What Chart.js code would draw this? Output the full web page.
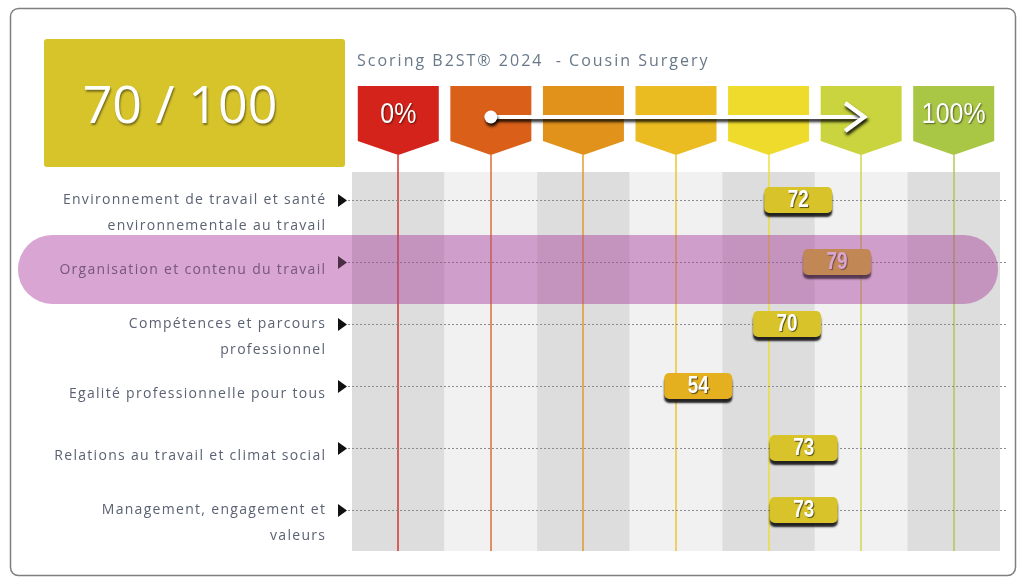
<!DOCTYPE html>
<html>
<head>
<meta charset="utf-8">
<script src="https://cdn.jsdelivr.net/npm/chart.js@4.4.1/dist/chart.umd.min.js"></script>
<style>
  html, body { margin: 0; padding: 0; background: #ffffff; }
  #wrap { width: 1022px; height: 579px; position: relative; }
</style>
</head>
<body>
<div id="wrap"><canvas id="scoring"></canvas></div>
<script>
// Themes of the B2ST scoring, one line per row (multi-line labels as arrays)
const categories = [
  ['Environnement de travail et santé', 'environnementale au travail'],
  ['Organisation et contenu du travail'],
  ['Compétences et parcours', 'professionnel'],
  ['Egalité professionnelle pour tous'],
  ['Relations au travail et climat social'],
  ['Management, engagement et', 'valeurs']
];
// Score of each theme, out of 100
const scores = [72, 79, 70, 54, 73, 73];
const badgeColors = ['#d8c42a', '#d8c42a', '#d8c42a', '#e4b01f', '#d8c42a', '#d8c42a'];

// Scale header: seven levels from 0% to 100%
const levelLabels = ['0%', '', '', '', '', '', '100%'];
const levelColors = ['#d3231a', '#da6019', '#e1921a', '#ebbc22', '#efdb2b', '#c9d43e', '#aac645'];

const globalScore = 70;
const scoreMax = 100;
const chartTitle = 'Scoring B2ST® 2024  - Cousin Surgery';
const focusRow = 1;

const levelStep = 100 / (levelLabels.length - 1);
const levelValues = levelLabels.map((_, i) => i * levelStep);

function roundRect(ctx, x, y, w, h, r) {
  ctx.beginPath();
  ctx.roundRect(x, y, w, h, r);
}

// condensed text: horizontal squeeze around the anchor point
function narrowText(ctx, text, x, y, squeeze) {
  ctx.save();
  ctx.translate(x, y);
  ctx.scale(squeeze, 1);
  ctx.fillText(text, 0, 0);
  ctx.restore();
}

const scoreboard = {
  id: 'scoreboard',
  beforeDraw(chart) {
    const { ctx } = chart;
    const xs = chart.scales.x;
    ctx.save();
    ctx.fillStyle = '#ffffff';
    ctx.fillRect(0, 0, chart.width, chart.height);

    // outer frame
    ctx.strokeStyle = '#7f7f7f';
    ctx.lineWidth = 1.5;
    roundRect(ctx, 10.5, 8.5, 1005, 567, 8);
    ctx.stroke();

    // global score box
    ctx.fillStyle = '#d7c42b';
    roundRect(ctx, 44, 39, 301, 128, 3);
    ctx.fill();
    ctx.save();
    ctx.shadowColor = 'rgba(0,0,0,0.45)';
    ctx.shadowOffsetX = 1;
    ctx.shadowOffsetY = 2;
    ctx.shadowBlur = 2;
    ctx.fillStyle = '#ffffff';
    ctx.font = '52px "Open Sans"';
    ctx.textAlign = 'center';
    ctx.textBaseline = 'alphabetic';
    ctx.fillText(globalScore + ' / ' + scoreMax, 180, 123);
    ctx.restore();

    // title
    ctx.save();
    ctx.fillStyle = '#687888';
    ctx.font = '16px "Open Sans"';
    ctx.letterSpacing = '2px';
    ctx.textAlign = 'left';
    ctx.fillText(chartTitle, 357, 66);
    ctx.restore();

    // level tiles
    levelValues.forEach((v, i) => {
      const cx = xs.getPixelForValue(v);
      const hw = 40.5;
      ctx.fillStyle = levelColors[i];
      ctx.beginPath();
      ctx.moveTo(cx - hw, 86);
      ctx.lineTo(cx + hw, 86);
      ctx.lineTo(cx + hw, 141);
      ctx.lineTo(cx, 155);
      ctx.lineTo(cx - hw, 141);
      ctx.closePath();
      ctx.fill();
      if (levelLabels[i]) {
        ctx.save();
        ctx.shadowColor = 'rgba(0,0,0,0.5)';
        ctx.shadowOffsetX = 1;
        ctx.shadowOffsetY = 1;
        ctx.shadowBlur = 1.5;
        ctx.fillStyle = '#ffffff';
        ctx.font = '29px "Liberation Sans"';
        ctx.textAlign = 'center';
        ctx.textBaseline = 'middle';
        narrowText(ctx, levelLabels[i], cx, 115, 0.86);
        ctx.restore();
      }
    });

    // progression arrow
    const ax0 = xs.getPixelForValue(levelValues[1]);
    const ax1 = xs.getPixelForValue(levelValues[5]) + 3;
    const ay = 117;
    ctx.save();
    ctx.shadowColor = 'rgba(0,0,0,0.85)';
    ctx.shadowOffsetX = 1;
    ctx.shadowOffsetY = 3;
    ctx.shadowBlur = 3;
    ctx.strokeStyle = '#ffffff';
    ctx.fillStyle = '#ffffff';
    ctx.lineWidth = 4;
    ctx.beginPath();
    ctx.moveTo(ax0, ay);
    ctx.lineTo(ax1 - 2, ay);
    ctx.stroke();
    ctx.beginPath();
    ctx.arc(ax0, ay, 6.5, 0, Math.PI * 2);
    ctx.fill();
    ctx.lineWidth = 4.5;
    ctx.lineJoin = 'miter';
    ctx.beginPath();
    ctx.moveTo(ax1 - 19, ay - 14);
    ctx.lineTo(ax1, ay);
    ctx.lineTo(ax1 - 19, ay + 14);
    ctx.stroke();
    ctx.restore();
    ctx.restore();
  },
  beforeDatasetsDraw(chart) {
    const { ctx, chartArea } = chart;
    const xs = chart.scales.x;
    const ys = chart.scales.y;
    ctx.save();

    // alternating columns
    levelValues.forEach((v, i) => {
      const l = xs.getPixelForValue(v - levelStep / 2);
      const r = xs.getPixelForValue(v + levelStep / 2);
      ctx.fillStyle = i % 2 === 0 ? '#dddddd' : '#f1f1f1';
      ctx.fillRect(l, chartArea.top, r - l, chartArea.bottom - chartArea.top);
    });

    // level lines hanging from the tiles
    levelValues.forEach((v, i) => {
      const cx = Math.round(xs.getPixelForValue(v));
      ctx.strokeStyle = levelColors[i];
      ctx.globalAlpha = 0.75;
      ctx.lineWidth = 1.8;
      ctx.beginPath();
      ctx.moveTo(cx, 155);
      ctx.lineTo(cx, chartArea.bottom);
      ctx.stroke();
    });
    ctx.globalAlpha = 1;

    // row guides, markers and labels
    categories.forEach((lines, i) => {
      const y = Math.round(ys.getPixelForValue(i)) + 0.5;
      ctx.strokeStyle = '#8c8c8c';
      ctx.lineWidth = 1;
      ctx.setLineDash([2, 2]);
      ctx.beginPath();
      ctx.moveTo(chartArea.left - 4, y);
      ctx.lineTo(chartArea.right + 7, y);
      ctx.stroke();
      ctx.setLineDash([]);

      ctx.fillStyle = '#111111';
      ctx.beginPath();
      ctx.moveTo(338, y - 6.5);
      ctx.lineTo(347, y);
      ctx.lineTo(338, y + 6.5);
      ctx.closePath();
      ctx.fill();

      ctx.fillStyle = '#5a6273';
      ctx.font = '14px "Open Sans"';
      ctx.letterSpacing = '1.3px';
      ctx.textAlign = 'right';
      ctx.textBaseline = 'middle';
      const lh = 26;
      const center = lines.length > 1 ? y + 13 : y + 8;
      lines.forEach((t, k) => {
        ctx.fillText(t, 325 + 1.3, center - (lines.length - 1) * lh / 2 + k * lh);
      });
      ctx.letterSpacing = '0px';
    });
    ctx.restore();
  },
  afterDatasetsDraw(chart) {
    const { ctx } = chart;
    const meta = chart.getDatasetMeta(0);
    const ys = chart.scales.y;
    ctx.save();

    // score badges
    meta.data.forEach((pt, i) => {
      const w = 68, h = 26;
      ctx.save();
      ctx.shadowColor = 'rgba(0,0,0,0.85)';
      ctx.shadowOffsetY = 4;
      ctx.shadowBlur = 2;
      ctx.fillStyle = badgeColors[i];
      roundRect(ctx, pt.x - w / 2, pt.y - h / 2, w, h, 5);
      ctx.fill();
      ctx.restore();
      ctx.save();
      ctx.shadowColor = 'rgba(0,0,0,0.6)';
      ctx.shadowOffsetX = 1;
      ctx.shadowOffsetY = 1;
      ctx.shadowBlur = 1;
      ctx.fillStyle = '#ffffff';
      ctx.font = 'bold 23px "Liberation Sans"';
      ctx.textAlign = 'center';
      ctx.textBaseline = 'middle';
      narrowText(ctx, String(scores[i]), pt.x, pt.y + 1, 0.82);
      ctx.restore();
    });

    // highlighted theme
    const yc = ys.getPixelForValue(focusRow) + 7.5;
    ctx.globalCompositeOperation = 'multiply';
    ctx.fillStyle = 'rgb(232,195,230)';
    roundRect(ctx, 18, yc - 34.5, 980, 69, 34.5);
    ctx.fill();
    ctx.globalCompositeOperation = 'source-over';
    ctx.fillStyle = 'rgba(190,110,175,0.35)';
    roundRect(ctx, 18, yc - 34.5, 980, 69, 34.5);
    ctx.fill();
    ctx.restore();
  }
};

new Chart(document.getElementById('scoring'), {
  type: 'scatter',
  data: {
    datasets: [{
      label: 'Score',
      data: scores.map((v, i) => ({ x: v, y: i })),
      backgroundColor: badgeColors,
      pointRadius: 0,
      pointHoverRadius: 0
    }]
  },
  options: {
    responsive: true,
    maintainAspectRatio: false,
    animation: false,
    devicePixelRatio: 1,
    events: [],
    layout: { padding: { left: 352, right: 22, top: 172, bottom: 28 } },
    plugins: {
      legend: { display: false },
      tooltip: { enabled: false },
      title: { display: false }
    },
    scales: {
      x: { type: 'linear', display: false, min: -levelStep / 2, max: 100 + levelStep / 2 },
      y: { type: 'linear', display: false, reverse: true, min: -0.45, max: categories.length - 0.34 }
    }
  },
  plugins: [scoreboard]
});
</script>
</body>
</html>
